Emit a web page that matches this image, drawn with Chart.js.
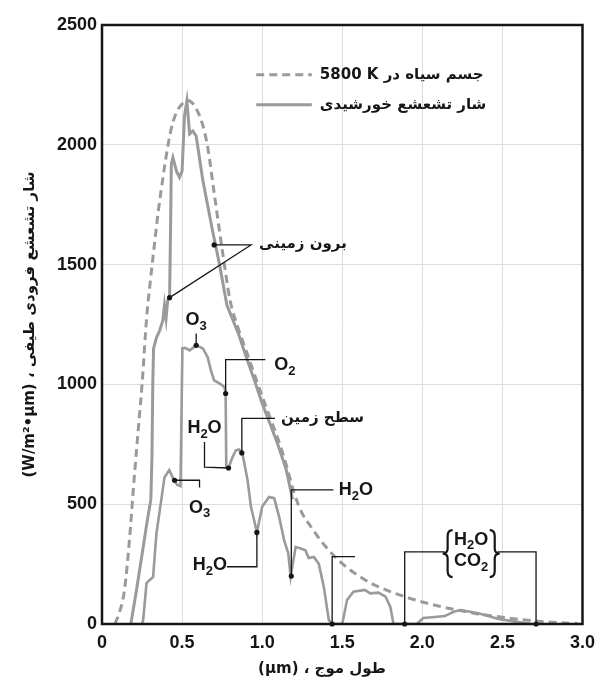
<!DOCTYPE html>
<html>
<head>
<meta charset="utf-8">
<script src="https://cdn.jsdelivr.net/npm/chart.js@4.4.0/dist/chart.umd.min.js"></script>
<style>
  html, body { margin: 0; padding: 0; background: #ffffff; }
  #spectrum { display: block; }
</style>
</head>
<body>
<canvas id="spectrum" width="603" height="689"></canvas>
<script>
// --- data (wavelength in µm, flux in W/m²·µm) ---
const xTicks = [0, 0.5, 1.0, 1.5, 2.0, 2.5, 3.0];
const yTicks = [0, 500, 1000, 1500, 2000, 2500];

const blackbodyX = [0.08, 0.11, 0.14, 0.17, 0.20, 0.23, 0.25, 0.28, 0.30, 0.33, 0.35, 0.38, 0.40, 0.43, 0.46, 0.50,
  0.535, 0.57, 0.60, 0.63, 0.66, 0.70, 0.75, 0.80, 0.85, 0.90, 0.95, 1.00, 1.05, 1.10, 1.15, 1.20, 1.25, 1.30, 1.40,
  1.50, 1.64, 1.80, 1.90, 2.00, 2.10, 2.22, 2.35, 2.50, 2.68, 2.85, 2.97];
const blackbodyY = [0, 50, 140, 340, 600, 840, 1000, 1290, 1420, 1600, 1715, 1860, 1950, 2060, 2128, 2170,
  2185, 2170, 2135, 2080, 1990, 1800, 1565, 1350, 1235, 1140, 1045, 950, 860, 770, 665, 545, 462, 410, 320,
  252, 185, 135, 112, 92, 75, 58, 42, 28, 14, 6, 2];

const solarX = [0.18, 0.215, 0.25, 0.28, 0.305, 0.312, 0.317, 0.322, 0.34, 0.36, 0.38, 0.39, 0.40, 0.41, 0.422,
  0.428, 0.433, 0.443, 0.465, 0.484, 0.50, 0.515, 0.53, 0.547, 0.567, 0.588, 0.63, 0.69, 0.733, 0.78, 0.85, 0.90,
  0.95, 1.00, 1.05, 1.10, 1.15, 1.19];
const solarY = [0, 140, 290, 420, 520, 700, 1000, 1150, 1195, 1225, 1267, 1330, 1275, 1350, 1362,
  1650, 1920, 1947, 1890, 1864, 1890, 2120, 2183, 2046, 2058, 2037, 1850, 1642, 1503, 1330, 1215, 1115,
  1020, 920, 835, 745, 645, 520];

const surfaceX = [0.25, 0.257, 0.278, 0.30, 0.319, 0.34, 0.37, 0.39, 0.42, 0.45, 0.47, 0.49, 0.497, 0.502, 0.52,
  0.547, 0.588, 0.63, 0.66, 0.68, 0.70, 0.733, 0.764, 0.772, 0.776, 0.79, 0.815, 0.836, 0.855, 0.877, 0.909, 0.93,
  0.95, 0.967, 1.00, 1.043, 1.075, 1.106, 1.137, 1.163, 1.178, 1.209, 1.24, 1.27, 1.29, 1.323, 1.354, 1.385, 1.416,
  1.437, 1.50, 1.53, 1.57, 1.64, 1.675, 1.727, 1.77, 1.80, 1.82, 1.965, 2.006, 2.06, 2.14, 2.20, 2.24, 2.35, 2.47,
  2.58, 2.68];
const surfaceY = [0, 17, 171, 185, 196, 379, 517, 612, 642, 600, 580, 575, 900, 1150, 1152,
  1142, 1163, 1150, 1113, 1058, 1017, 1004, 989, 962, 655, 651, 697, 725, 728, 711, 600, 489,
  433, 382, 489, 530, 525, 447, 350, 295, 197, 322, 315, 308, 275, 280, 250, 155, 17,
  0, 0, 100, 135, 142, 128, 131, 114, 72, 0, 0, 25, 28, 33, 52, 58, 45, 22,
  10, 0];

// LRM keeps "5800 K" together inside the right-to-left label
const legendLabels = ["جسم سیاه در \u200E5800 K", "شار تشعشع خورشیدی"];
const xTitle = "طول موج ، (µm)";
const yTitle = "شار تشعشع فرودی طیفی ، (W/m²•µm)";

// --- annotations, in data units ---
const leaderLines = [
  [[0.70, 1582], [0.93, 1582], [0.422, 1362]],
  [[0.588, 1163], [0.588, 1212]],
  [[0.772, 962], [0.772, 1103], [1.02, 1103]],
  [[0.64, 760], [0.64, 655], [0.79, 651]],
  [[0.873, 714], [0.873, 858], [1.08, 858]],
  [[0.453, 600], [0.609, 600], [0.609, 570]],
  [[0.78, 239], [0.967, 239], [0.967, 382]],
  [[1.445, 560], [1.182, 560], [1.182, 200]],
  [[1.58, 281], [1.437, 281], [1.437, 0]],
  [[2.14, 301], [1.89, 301], [1.89, 0]],
  [[2.47, 301], [2.71, 301], [2.71, 0]]
];
const leaderDots = [[0.70, 1582], [0.422, 1362], [0.588, 1163], [0.772, 962], [0.79, 651], [0.873, 714],
  [0.453, 600], [0.967, 382], [1.182, 200], [1.437, 0], [1.89, 0], [2.71, 0]];
const chemLabels = [
  { text: "O3", x: 0.588, y: 1268, align: "center" },
  { text: "O2", x: 1.075, y: 1080, align: "left" },
  { text: "H2O", x: 0.64, y: 818, align: "center" },
  { text: "O3", x: 0.609, y: 485, align: "center" },
  { text: "H2O", x: 0.673, y: 246, align: "center" },
  { text: "H2O", x: 1.478, y: 558, align: "left" },
  { text: "H2O", x: 2.304, y: 352, align: "center" },
  { text: "CO2", x: 2.304, y: 262, align: "center" }
];
const faLabels = [
  { text: "برون زمینی", x: 0.981, y: 1587 },
  { text: "سطح زمین", x: 1.118, y: 858 }
];

const palette = {
  ink: "#161616",
  curve: "#9a9a9a",
  grid: "#dddddd"
};
const faFont = 'bold 15px "DejaVu Sans", sans-serif';
const latinFont = (size) => `bold ${size}px "Liberation Sans", Arial, sans-serif`;

const toPoints = (xs, ys) => xs.map((x, i) => ({ x, y: ys[i] }));

const drawChem = (ctx, text, x, y, align) => {
  const parts = text.split("").map((ch) => ({ ch, sub: /\d/.test(ch) }));
  const fontOf = (p) => (p.sub ? latinFont(13) : latinFont(18));
  const total = parts.reduce((sum, p) => {
    ctx.font = fontOf(p);
    return sum + ctx.measureText(p.ch).width;
  }, 0);
  let cx = align === "left" ? x : x - total / 2;
  ctx.textAlign = "left";
  ctx.textBaseline = "middle";
  parts.forEach((p) => {
    ctx.font = fontOf(p);
    ctx.fillText(p.ch, cx, p.sub ? y + 6 : y);
    cx += ctx.measureText(p.ch).width;
  });
};

const drawBrace = (ctx, x, top, bottom, facing) => {
  const mid = (top + bottom) / 2;
  const w = 5 * facing;
  ctx.beginPath();
  ctx.moveTo(x + w, top);
  ctx.quadraticCurveTo(x, top, x, top + 6);
  ctx.lineTo(x, mid - 5);
  ctx.quadraticCurveTo(x, mid, x - w, mid);
  ctx.quadraticCurveTo(x, mid, x, mid + 5);
  ctx.lineTo(x, bottom - 6);
  ctx.quadraticCurveTo(x, bottom, x + w, bottom);
  ctx.stroke();
};

const annotationPlugin = {
  id: "annotationPlugin",
  afterDatasetsDraw(chart) {
    const { ctx, chartArea, scales } = chart;
    const px = (v) => scales.x.getPixelForValue(v);
    const py = (v) => scales.y.getPixelForValue(v);

    ctx.save();
    ctx.strokeStyle = palette.ink;
    ctx.fillStyle = palette.ink;
    ctx.lineWidth = 1.3;
    leaderLines.forEach((line) => {
      ctx.beginPath();
      line.forEach(([x, y], i) => (i ? ctx.lineTo(px(x), py(y)) : ctx.moveTo(px(x), py(y))));
      ctx.stroke();
    });
    leaderDots.forEach(([x, y]) => {
      ctx.beginPath();
      ctx.arc(px(x), py(y), 2.6, 0, Math.PI * 2);
      ctx.fill();
    });

    // braces round H2O / CO2
    ctx.lineWidth = 2.2;
    drawBrace(ctx, px(2.158), py(392), py(196), 1);
    drawBrace(ctx, px(2.452), py(392), py(196), -1);

    ctx.direction = "ltr";
    chemLabels.forEach((lab) => drawChem(ctx, lab.text, px(lab.x), py(lab.y), lab.align));

    ctx.direction = "rtl";
    ctx.font = faFont;
    ctx.textAlign = "left";
    ctx.textBaseline = "middle";
    faLabels.forEach((lab) => ctx.fillText(lab.text, px(lab.x), py(lab.y)));

    // legend
    const legendRows = [
      { label: legendLabels[0], y: 2292, dash: [8, 5] },
      { label: legendLabels[1], y: 2167, dash: [] }
    ];
    legendRows.forEach((row) => {
      ctx.strokeStyle = palette.curve;
      ctx.lineWidth = 3;
      ctx.setLineDash(row.dash);
      ctx.beginPath();
      ctx.moveTo(px(0.963), py(row.y));
      ctx.lineTo(px(1.31), py(row.y));
      ctx.stroke();
      ctx.setLineDash([]);
      ctx.fillStyle = palette.ink;
      ctx.font = faFont;
      ctx.direction = "rtl";
      ctx.textAlign = "left";
      ctx.fillText(row.label, px(1.36), py(row.y));
    });

    // frame
    ctx.direction = "ltr";
    ctx.strokeStyle = palette.ink;
    ctx.lineWidth = 2.5;
    ctx.strokeRect(chartArea.left, chartArea.top, chartArea.right - chartArea.left, chartArea.bottom - chartArea.top);
    ctx.restore();
  },
  afterDraw(chart) {
    const { ctx, chartArea } = chart;
    ctx.save();
    ctx.fillStyle = palette.ink;
    ctx.font = faFont;
    ctx.direction = "rtl";
    ctx.textAlign = "center";
    ctx.textBaseline = "middle";
    ctx.fillText(xTitle, 322, 669);

    ctx.translate(30, (chartArea.top + chartArea.bottom) / 2);
    ctx.rotate(-Math.PI / 2);
    ctx.fillText(yTitle, 0, 0);
    ctx.restore();
  }
};

new Chart(document.getElementById("spectrum"), {
  type: "line",
  data: {
    datasets: [
      {
        label: legendLabels[0],
        data: toPoints(blackbodyX, blackbodyY),
        borderColor: palette.curve,
        borderWidth: 3,
        borderDash: [8, 5],
        pointRadius: 0,
        cubicInterpolationMode: "monotone",
        fill: false
      },
      {
        label: legendLabels[1],
        data: toPoints(solarX, solarY),
        borderColor: palette.curve,
        borderWidth: 3,
        pointRadius: 0,
        tension: 0,
        fill: false
      },
      {
        label: "surface",
        data: toPoints(surfaceX, surfaceY),
        borderColor: palette.curve,
        borderWidth: 2.6,
        pointRadius: 0,
        tension: 0,
        fill: false
      }
    ]
  },
  options: {
    responsive: false,
    animation: false,
    devicePixelRatio: 1,
    layout: { padding: { top: 25, right: 18, left: 0, bottom: 0 } },
    plugins: {
      legend: { display: false },
      tooltip: { enabled: false }
    },
    scales: {
      x: {
        type: "linear",
        min: xTicks[0],
        max: xTicks[xTicks.length - 1],
        afterBuildTicks: (scale) => {
          scale.ticks = xTicks.map((value) => ({ value }));
        },
        afterFit: (scale) => {
          scale.height = 65;
        },
        ticks: {
          color: palette.ink,
          font: { family: '"Liberation Sans", Arial, sans-serif', size: 18, weight: "bold" },
          padding: 8,
          maxRotation: 0,
          autoSkip: false,
          callback: (value) => (value === 0 ? "0" : value.toFixed(1))
        },
        grid: { color: palette.grid, drawTicks: false },
        border: { display: false }
      },
      y: {
        type: "linear",
        min: yTicks[0],
        max: yTicks[yTicks.length - 1],
        afterBuildTicks: (scale) => {
          scale.ticks = yTicks.map((value) => ({ value }));
        },
        afterFit: (scale) => {
          scale.width = 102;
        },
        ticks: {
          color: palette.ink,
          font: { family: '"Liberation Sans", Arial, sans-serif', size: 18, weight: "bold" },
          padding: 5,
          callback: (value) => String(value)
        },
        grid: { color: palette.grid, drawTicks: false },
        border: { display: false }
      }
    }
  },
  plugins: [annotationPlugin]
});
</script>
</body>
</html>
